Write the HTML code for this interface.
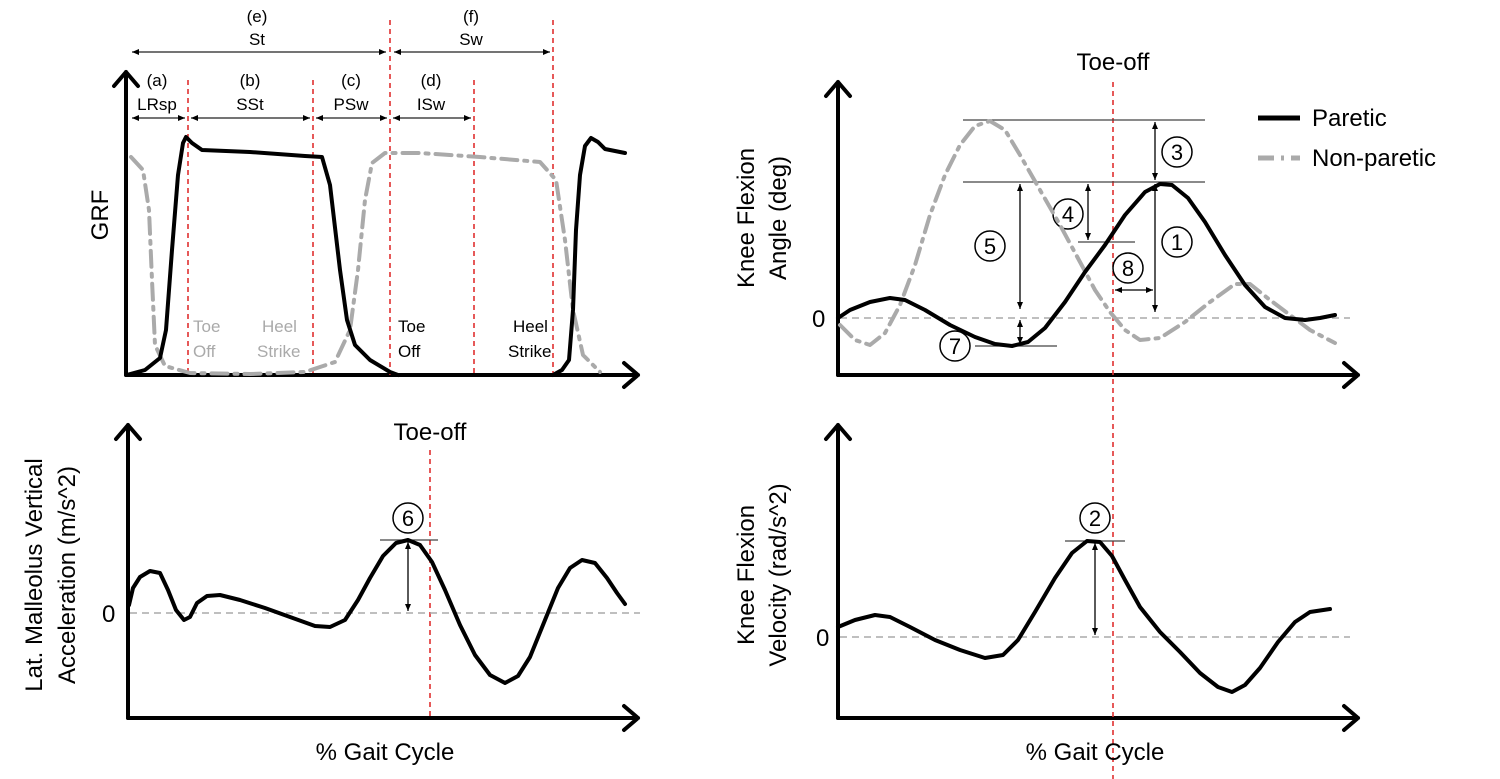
<!DOCTYPE html>
<html><head><meta charset="utf-8"><style>
html,body{margin:0;padding:0;background:#fff;}
svg{display:block;font-family:"Liberation Sans",sans-serif;}
</style></head><body>
<svg width="1500" height="779" viewBox="0 0 1500 779" xmlns="http://www.w3.org/2000/svg">
<defs>
<marker id="s" markerWidth="8" markerHeight="8" refX="7" refY="4" orient="auto-start-reverse" markerUnits="userSpaceOnUse"><path d="M0,1 L7,4 L0,7 Z" fill="#000"/></marker>
</defs>
<g fill="none" stroke="#000" stroke-width="4" stroke-linecap="round" stroke-linejoin="round">
<path d="M126,375 V72 M114,86 L126,72 L138,86"/>
<path d="M126,375 H638 M624,363 L638,375 L624,387"/>
<path d="M838,375 V82 M826,96 L838,82 L850,96"/>
<path d="M838,375 H1358 M1344,363 L1358,375 L1344,387"/>
<path d="M128,718 V425 M116,439 L128,425 L140,439"/>
<path d="M128,718 H638 M624,706 L638,718 L624,730"/>
<path d="M838,718 V425 M826,439 L838,425 L850,439"/>
<path d="M838,718 H1358 M1344,706 L1358,718 L1344,730"/>
</g>
<g stroke="#e03030" stroke-width="1.6" stroke-dasharray="5,4">
<path d="M188,80 V375 M313,80 V375 M390,20 V375 M474,80 V375 M553,20 V375"/>
<path d="M1113,82 V779"/>
<path d="M430,450 V718"/>
</g>
<g stroke="#aaa" stroke-width="1.5" stroke-dasharray="7,5">
<path d="M840,318 H1350 M130,613 H640 M840,637 H1350"/>
</g>
<g stroke="#222" stroke-width="1.2" marker-start="url(#s)" marker-end="url(#s)">
<line x1="132" y1="52" x2="386" y2="52"/><line x1="394" y1="52" x2="550" y2="52"/>
<line x1="132" y1="118" x2="185" y2="118"/><line x1="191" y1="118" x2="310" y2="118"/>
<line x1="316" y1="118" x2="387" y2="118"/><line x1="393" y1="118" x2="471" y2="118"/>
</g>
<g font-size="17" fill="#000" text-anchor="middle">
<text x="257" y="22">(e)</text><text x="257" y="45">St</text>
<text x="471" y="22">(f)</text><text x="471" y="45">Sw</text>
<text x="157" y="86">(a)</text><text x="157" y="110">LRsp</text>
<text x="250" y="86">(b)</text><text x="250" y="110">SSt</text>
<text x="351" y="86">(c)</text><text x="351" y="110">PSw</text>
<text x="431" y="86">(d)</text><text x="431" y="110">ISw</text>
</g>
<g font-size="17" fill="#aaa">
<text x="193" y="332">Toe</text><text x="193" y="357">Off</text>
<text x="262" y="332">Heel</text><text x="257" y="357">Strike</text>
</g>
<g font-size="17" fill="#000">
<text x="398" y="332">Toe</text><text x="398" y="357">Off</text>
<text x="513" y="332">Heel</text><text x="508" y="357">Strike</text>
</g>
<g fill="none" stroke-linejoin="round" stroke-linecap="round">
<polyline stroke="#aaa" stroke-width="4" stroke-dasharray="16,7,3,7" points="131,157 143,170 149,210 152,280 155,345 165,366 190,373 250,374 305,372 335,362 350,330 358,270 365,200 372,163 385,153 420,153 480,157 540,162 556,180 565,240 573,310 583,355 600,372"/>
<polyline stroke="#000" stroke-width="4" points="127,375 145,370 160,358 166,330 172,250 178,175 183,143 186,137 192,143 202,150 250,152 305,156 322,157 330,185 340,270 347,320 355,345 370,360 390,372 398,375"/>
<polyline stroke="#000" stroke-width="4" points="553,375 562,370 569,360 573,310 576,230 580,175 585,146 591,138 598,142 605,149 625,153"/>
</g>
<text font-size="24" transform="translate(108,215) rotate(-90)" text-anchor="middle">GRF</text>

<text x="1113" y="70" font-size="24" text-anchor="middle">Toe-off</text>
<g stroke="#444" stroke-width="1.2">
<path d="M963,120 H1205 M963,182 H1205 M1078,242 H1135 M975,346 H1057"/>
</g>
<g stroke="#000" stroke-width="1.3" marker-start="url(#s)" marker-end="url(#s)">
<line x1="1155" y1="122" x2="1155" y2="180"/>
<line x1="1155" y1="184" x2="1155" y2="312"/>
<line x1="1020" y1="184" x2="1020" y2="309"/>
<line x1="1088" y1="184" x2="1088" y2="240"/>
<line x1="1020" y1="320" x2="1020" y2="344"/>
<line x1="1115" y1="290" x2="1153" y2="290"/>
<line x1="408" y1="542" x2="408" y2="611"/>
<line x1="1095" y1="543" x2="1095" y2="635"/>
</g>
<g fill="#fff" stroke="#000" stroke-width="1.5">
<circle cx="1177" cy="152" r="15"/><circle cx="1177" cy="242" r="15"/><circle cx="990" cy="246" r="15"/><circle cx="1068" cy="214" r="15"/><circle cx="955" cy="346" r="15"/><circle cx="1128" cy="268" r="15"/>
<circle cx="408" cy="518" r="15"/><circle cx="1095" cy="518" r="15"/>
</g>
<g font-size="22" text-anchor="middle" fill="#000">
<text x="1177" y="160">3</text><text x="1177" y="250">1</text><text x="990" y="254">5</text><text x="1068" y="222">4</text><text x="955" y="354">7</text><text x="1128" y="276">8</text>
<text x="408" y="526">6</text><text x="1095" y="526">2</text>
</g>
<g fill="none" stroke-linejoin="round" stroke-linecap="round">
<polyline stroke="#aaa" stroke-width="4" stroke-dasharray="16,7,3,7" points="840,325 855,340 870,345 885,333 900,305 915,265 930,215 945,175 960,145 975,126 990,121 1005,130 1020,155 1040,190 1060,225 1080,262 1095,290 1110,312 1125,330 1140,340 1160,338 1185,322 1210,302 1235,284 1250,284 1270,300 1290,315 1310,330 1335,343"/>
<polyline stroke="#000" stroke-width="4" points="838,318 850,310 870,302 890,298 905,300 925,310 950,325 975,337 995,344 1012,346 1028,342 1045,328 1065,302 1085,272 1105,245 1125,215 1145,192 1160,184 1172,185 1188,198 1205,222 1225,255 1245,285 1265,307 1285,318 1305,320 1320,318 1335,315"/>
</g>
<path d="M1258,118 H1300" stroke="#000" stroke-width="5"/>
<path d="M1258,158 H1300" stroke="#aaa" stroke-width="5" stroke-dasharray="16,7,3,7"/>
<g font-size="24" fill="#000">
<text x="1312" y="126">Paretic</text><text x="1312" y="166">Non-paretic</text>
<text x="812" y="327">0</text>
<text x="102" y="622">0</text>
<text x="816" y="646">0</text>
</g>
<g font-size="24" text-anchor="middle" fill="#000">
<text transform="translate(754,218) rotate(-90)">Knee Flexion</text>
<text transform="translate(786,218) rotate(-90)">Angle (deg)</text>
<text transform="translate(754,575) rotate(-90)">Knee Flexion</text>
<text transform="translate(786,575) rotate(-90)">Velocity (rad/s^2)</text>
<text transform="translate(42,575) rotate(-90)">Lat. Malleolus Vertical</text>
<text transform="translate(75,575) rotate(-90)">Acceleration (m/s^2)</text>
<text x="385" y="760">% Gait Cycle</text>
<text x="1095" y="760">% Gait Cycle</text>
<text x="430" y="440">Toe-off</text>
</g>
<g stroke="#444" stroke-width="1.2"><path d="M380,540 H438 M1065,541 H1125"/></g>
<g fill="none" stroke="#000" stroke-width="4" stroke-linejoin="round" stroke-linecap="round">
<polyline points="129,605 133,588 140,577 150,571 160,573 168,590 176,610 184,620 190,617 197,603 207,596 220,595 240,600 265,608 290,617 315,626 330,627 345,620 358,600 370,578 383,556 396,543 408,540 420,545 432,562 445,590 460,625 475,655 490,675 505,683 518,676 530,657 545,620 558,588 570,568 582,560 595,563 607,578 617,593 625,604"/>
<polyline points="838,627 855,620 875,615 890,617 910,627 935,640 960,650 985,658 1003,655 1018,640 1035,612 1055,578 1072,553 1087,541 1100,542 1112,556 1125,580 1140,607 1160,632 1180,652 1200,673 1218,687 1232,692 1245,685 1260,668 1278,642 1295,622 1310,612 1330,609"/>
</g>
</svg>
</body></html>
